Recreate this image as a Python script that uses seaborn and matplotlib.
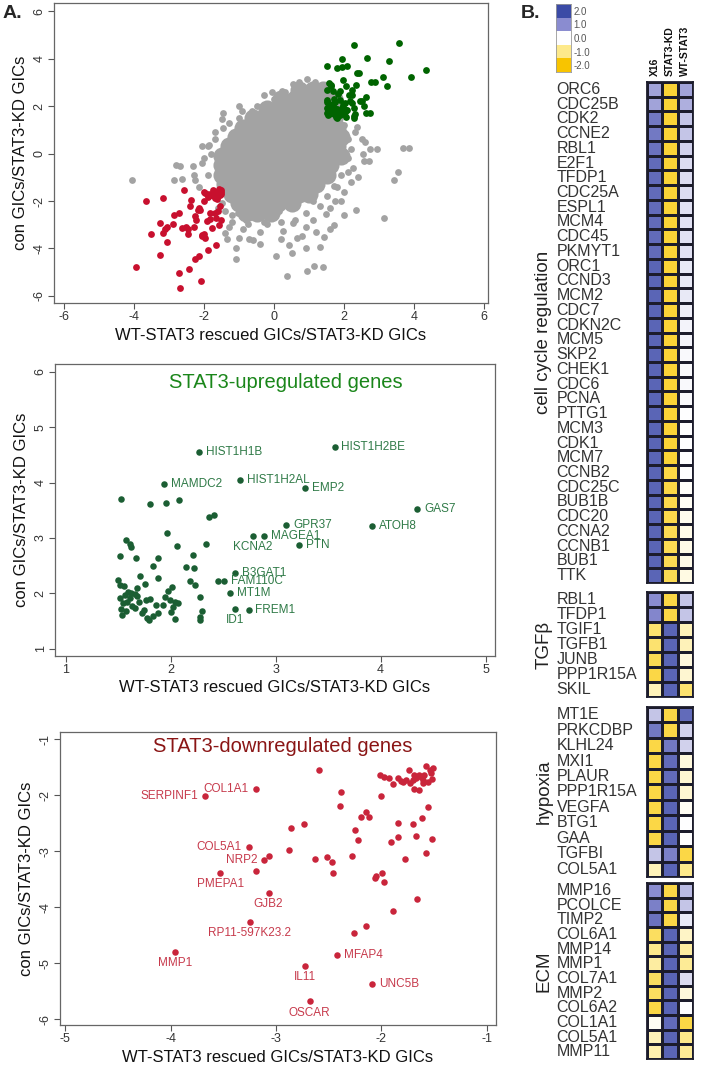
import numpy as np
import pandas as pd
import matplotlib
matplotlib.use("Agg")
import matplotlib.pyplot as plt
import seaborn as sns
from matplotlib.colors import LinearSegmentedColormap

sns.set_theme(style="ticks")
plt.rcParams['font.family'] = ['Liberation Sans', 'DejaVu Sans']

# ---------------- DATA ----------------
# STAT3-upregulated genes (labelled)
up_lab_names = ["HIST1H1B", "HIST1H2BE", "MAMDC2", "HIST1H2AL", "EMP2", "GAS7", "ATOH8",
                "GPR37", "MAGEA1", "KCNA2", "PTN", "B3GAT1", "FAM110C", "MT1M", "FREM1", "ID1"]
up_lab_x = [2.27, 3.56, 1.93, 2.66, 3.28, 4.35, 3.92, 3.10, 2.89, 2.78, 3.22, 2.61, 2.51, 2.56, 2.74, 2.61]
up_lab_y = [4.56, 4.65, 3.98, 4.04, 3.91, 3.53, 3.22, 3.24, 3.03, 3.03, 2.87, 2.37, 2.22, 2.01, 1.70, 1.72]
up_lab_pos = ["r", "r", "r", "r", "r", "r", "r", "r", "r", "b", "r", "r", "r", "r", "r", "b"]

# STAT3-upregulated genes (unlabelled)
up_x = [1.52, 1.80, 1.95, 2.08, 2.36, 2.41, 1.96, 1.57, 1.61, 1.62, 2.06, 2.33, 1.51, 1.67, 1.88,
        2.21, 1.83, 2.14, 2.22, 1.71, 1.88, 1.50, 1.51, 1.55, 1.75, 2.18, 2.23, 2.01, 1.97, 1.68,
        2.45, 1.59, 1.62, 1.66, 1.56, 1.51, 1.61, 1.68, 1.58, 1.54, 1.76, 1.80, 1.94, 1.99, 2.04,
        2.07, 1.86, 1.92, 2.02, 1.52, 1.57, 1.66, 1.72, 1.77, 1.79, 1.83, 1.88, 2.00, 2.04, 1.53,
        2.28, 2.30, 2.28, 2.28, 1.63, 1.70, 1.74]
up_y = [3.71, 3.61, 3.64, 3.68, 3.38, 3.41, 3.09, 2.97, 2.89, 2.83, 2.85, 2.90, 2.68, 2.63, 2.63,
        2.69, 2.50, 2.48, 2.45, 2.32, 2.27, 2.25, 2.16, 2.14, 2.17, 2.22, 2.15, 2.12, 2.04, 2.09,
        2.22, 2.03, 2.00, 1.99, 1.97, 1.91, 1.91, 1.95, 1.85, 1.82, 1.88, 1.89, 1.93, 1.88, 1.85,
        1.82, 1.79, 1.79, 1.76, 1.71, 1.69, 1.73, 1.65, 1.55, 1.52, 1.59, 1.64, 1.67, 1.54, 1.61,
        1.93, 1.68, 1.58, 1.52, 1.78, 1.85, 1.70]

# STAT3-downregulated genes (labelled)
dn_lab_names = ["COL1A1", "SERPINF1", "COL5A1", "NRP2", "PMEPA1", "GJB2", "RP11-597K23.2",
                "MMP1", "MFAP4", "IL11", "UNC5B", "OSCAR"]
dn_lab_x = [-3.19, -3.67, -3.26, -3.11, -3.53, -3.07, -3.25, -3.96, -2.42, -2.72, -2.09, -2.68]
dn_lab_y = [-1.89, -2.02, -2.93, -3.16, -3.39, -3.74, -4.27, -4.80, -4.86, -5.04, -5.36, -5.68]
dn_lab_pos = ["l", "l", "l", "l", "b", "b", "b", "b", "r", "b", "r", "b"]

# STAT3-downregulated genes (unlabelled)
dn_x = [-3.07, -3.19, -2.59, -2.38, -2.00, -2.39, -1.56, -2.19, -2.14, -2.12, -1.61, -2.73, -2.86,
        -2.25, -1.84, -1.70, -1.84, -1.67, -1.52, -2.22, -1.91, -2.88, -2.28, -1.57, -2.63, -2.51,
        -2.47, -2.46, -1.77, -2.06, -2.05, -1.99, -1.97, -1.66, -1.89, -2.14, -2.26,
        -2.01, -1.97, -1.93, -1.89, -1.84, -1.81, -1.74, -1.76, -1.73, -1.69, -1.67, -1.64, -1.60,
        -1.57, -1.54, -1.51, -1.52, -1.56, -1.60, -1.69, -1.64, -1.70, -1.79, -1.59, -1.62, -1.53]
dn_y = [-3.08, -3.36, -1.55, -1.94, -2.02, -2.19, -2.21, -2.39, -2.31, -2.39, -2.41, -2.52, -2.59,
        -2.62, -2.50, -2.52, -2.75, -2.73, -2.79, -2.80, -2.84, -2.98, -3.08, -3.03, -3.14, -3.11,
        -3.20, -3.39, -3.14, -3.47, -3.45, -3.39, -3.55, -3.85, -4.06, -4.33, -4.46,
        -1.64, -1.68, -1.69, -1.81, -1.70, -1.74, -1.55, -1.73, -1.79, -1.65, -1.70, -1.64, -1.73,
        -1.49, -1.55, -1.52, -1.72, -1.76, -1.79, -1.89, -1.91, -1.73, -1.76, -1.64, -1.67, -1.61]

# All other genes: dense core of the cloud
core_x = [0.7, 1.1, 1.4,
          0.2, 0.6, 1.0, 1.4, 1.7,
          -0.2, 0.1, 0.5, 0.9, 1.3, 1.7,
          -0.6, -0.3, 0.1, 0.5, 0.9, 1.3, 1.7,
          -0.9, -0.6, -0.2, 0.2, 0.6, 1.0, 1.4, 1.8,
          -1.1, -0.8, -0.4, 0.0, 0.4, 0.8, 1.2, 1.6, 1.9,
          -1.3, -1.0, -0.6, -0.2, 0.2, 0.6, 1.0, 1.4, 1.8,
          -1.5, -1.2, -0.8, -0.4, 0.0, 0.4, 0.8, 1.2, 1.6, 1.9,
          -1.5, -1.2, -0.8, -0.4, 0.0, 0.4, 0.8, 1.2, 1.6,
          -1.5, -1.2, -0.8, -0.4, 0.0, 0.4, 0.8, 1.2, 1.5,
          -1.4, -1.1, -0.7, -0.3, 0.1, 0.5, 0.9, 1.2,
          -1.2, -0.9, -0.5, -0.1, 0.3, 0.7, 1.0,
          -1.0, -0.7, -0.3, 0.1, 0.5,
          -0.8, -0.5, -0.1]
core_y = [2.7, 2.7, 2.7,
          2.3, 2.3, 2.3, 2.3, 2.3,
          1.9, 1.9, 1.9, 1.9, 1.9, 1.9,
          1.5, 1.5, 1.5, 1.5, 1.5, 1.5, 1.5,
          1.1, 1.1, 1.1, 1.1, 1.1, 1.1, 1.1, 1.1,
          0.7, 0.7, 0.7, 0.7, 0.7, 0.7, 0.7, 0.7, 0.7,
          0.3, 0.3, 0.3, 0.3, 0.3, 0.3, 0.3, 0.3, 0.3,
          -0.1, -0.1, -0.1, -0.1, -0.1, -0.1, -0.1, -0.1, -0.1, -0.1,
          -0.5, -0.5, -0.5, -0.5, -0.5, -0.5, -0.5, -0.5, -0.5,
          -0.9, -0.9, -0.9, -0.9, -0.9, -0.9, -0.9, -0.9, -0.9,
          -1.3, -1.3, -1.3, -1.3, -1.3, -1.3, -1.3, -1.3,
          -1.7, -1.7, -1.7, -1.7, -1.7, -1.7, -1.7,
          -2.1, -2.1, -2.1, -2.1, -2.1,
          -2.5, -2.5, -2.5]

# All other genes: scattered points around the core
gray_x = [-4.07, -2.80, -2.68, -2.33, -2.87, -2.64, -2.26, -2.05, -1.85, -2.07, -2.14, -1.45, -1.50,
          -1.46, -0.93, -0.64, -0.30, -0.05, 0.22, 0.55, 0.93, 1.17, 2.38, 2.75, 2.55, 2.58, 3.69,
          3.41, 2.35, 3.14, 2.25, 2.10, 1.72, 1.75, 1.47, 1.42, 1.32, 1.15, 1.39, 0.93, 0.05, 0.42,
          0.66, 0.80, 0.26, 0.55, -1.10, -1.08, -0.73, -1.01, -1.36, -1.40, -1.04, -0.76, -0.53,
          0.14, 1.10, 0.38, -0.59, -0.21, 2.93, 3.55, 3.84,
          -1.9, -1.8, -1.7, -1.3, -1.0, -0.5, 0.0, 0.3, 0.7, 1.2, 2.0, 2.1, 2.2, 2.1, 1.9, 1.8,
          1.5, 1.3, 0.9, 0.6, 0.2, -0.3, -0.8, -1.2, -1.4, -1.5, -1.2, -1.3, -0.9, -0.4, 0.9,
          1.1, 1.6, 2.0, 2.4, 2.3, 2.6, -2.0, -1.9, -2.3, -1.7, 1.9, 2.0, 1.7, 0.2, 0.9, 0.5,
          -0.4, 1.2, 2.5, 2.7, 2.2, 1.6, -1.6, -1.0]
gray_y = [-1.11, -0.46, -0.54, -0.52, -1.10, -1.08, -1.13, 0.30, 0.37, -0.40, -1.39, 1.70, 1.44,
          1.10, 1.78, 1.78, 2.47, 2.61, 2.63, 2.94, 3.16, 3.02, 1.11, 0.20, -0.02, -0.33, 0.24,
          -1.10, -2.37, -2.70, -0.60, -0.78, -1.35, -1.98, -2.54, -3.50, -3.95, -4.72, -4.80, -4.97,
          -4.32, -3.86, -3.54, -3.47, -3.26, -2.91, -4.00, -4.45, -3.60, -3.55, -3.60, -3.35, -2.51,
          -2.95, -2.60, -2.40, -1.98, -5.15, -3.66, -2.98, 0.19, -0.79, 0.22,
          -0.9, 0.0, 0.6, 1.3, 1.5, 2.0, 2.3, 2.6, 3.0, 2.8, 1.2, 0.6, 0.2, -0.2, -0.9, -1.4,
          -1.8, -2.2, -2.5, -2.8, -2.9, -2.9, -2.8, -2.6, -2.4, -2.1, -2.9, -3.1, -3.2, -3.3, -3.1,
          -2.8, -2.3, -1.6, -1.0, 0.9, 0.5, -0.2, 0.3, -0.9, 0.9, -2.0, -2.6, -3.0, -3.6, -4.0, -4.2,
          -3.8, -3.3, 0.6, -0.3, -1.2, -3.2, -2.3, 2.0]

# Heatmap (panel B)
conditions = ["X16", "STAT3-KD", "WT-STAT3"]
cc_genes = ["ORC6", "CDC25B", "CDK2", "CCNE2", "RBL1", "E2F1", "TFDP1", "CDC25A", "ESPL1", "MCM4",
            "CDC45", "PKMYT1", "ORC1", "CCND3", "MCM2", "CDC7", "CDKN2C", "MCM5", "SKP2", "CHEK1",
            "CDC6", "PCNA", "PTTG1", "MCM3", "CDK1", "MCM7", "CCNB2", "CDC25C", "BUB1B", "CDC20",
            "CCNA2", "CCNB1", "BUB1", "TTK"]
cc_x16 = [0.8, 0.8, 1.3, 1.3, 1.4, 1.5, 1.5, 1.5, 1.5, 1.5, 1.5, 1.5, 1.6, 1.6, 1.6, 1.6, 1.6,
          1.6, 1.6, 1.6, 1.6, 1.6, 1.6, 1.6, 1.6, 1.6, 1.6, 1.6, 1.6, 1.6, 1.6, 1.6, 1.6, 1.6]
cc_kd = [-1.6, -1.6, -1.6, -1.6, -1.6, -1.6, -1.6, -1.6, -1.6, -1.6, -1.6, -1.6, -1.6, -1.6,
         -1.6, -1.6, -1.6, -1.6, -1.6, -1.6, -1.6, -1.6, -1.6, -1.6, -1.6, -1.6, -1.5, -1.5,
         -1.45, -1.45, -1.4, -1.4, -1.4, -1.4]
cc_wt = [0.8, 0.7, 0.5, 0.5, 0.4, 0.3, 0.3, 0.3, 0.25, 0.25, 0.25, 0.25, 0.2, 0.2, 0.2, 0.15,
         0.1, 0.1, 0.05, 0.05, 0.05, 0.05, 0.0, 0.0, 0.0, 0.0, 0.0, -0.05, -0.1, -0.15, -0.2,
         -0.2, -0.2, -0.25]

tgf_genes = ["RBL1", "TFDP1", "TGIF1", "TGFB1", "JUNB", "PPP1R15A", "SKIL"]
tgf_x16 = [1.0, 1.1, -1.2, -1.2, -1.4, -1.5, -0.6]
tgf_kd = [-1.5, -1.5, 1.6, 1.6, 1.6, 1.6, 1.6]
tgf_wt = [0.5, 0.5, -0.6, -0.6, -0.3, -0.4, -1.2]

hyp_genes = ["MT1E", "PRKCDBP", "KLHL24", "MXI1", "PLAUR", "PPP1R15A", "VEGFA", "BTG1", "GAA",
             "TGFBI", "COL5A1"]
hyp_x16 = [0.5, 1.3, -1.5, -1.5, -1.5, -1.5, -1.5, -1.5, -1.5, 0.5, -0.6]
hyp_kd = [-1.5, -1.5, 1.3, 1.5, 1.5, 1.6, 1.6, 1.6, 1.6, 1.2, 1.6]
hyp_wt = [1.5, 0.4, 0.4, -0.3, -0.4, -0.4, -0.1, 0.0, 0.0, -1.5, -1.0]

ecm_genes = ["MMP16", "PCOLCE", "TIMP2", "COL6A1", "MMP14", "MMP1", "COL7A1", "MMP2", "COL6A2",
             "COL1A1", "COL5A1", "MMP11"]
ecm_x16 = [1.0, 1.2, 1.4, -1.3, -1.0, -0.8, -1.3, -1.3, -1.5, -0.1, -0.6, -0.7]
ecm_kd = [-1.5, -1.5, -1.5, 1.6, 1.6, 1.6, 1.6, 1.6, 1.6, 1.5, 1.6, 1.6]
ecm_wt = [0.6, 0.5, 0.2, -0.5, -0.8, -0.9, 0.3, -0.3, 0.0, -1.5, -1.0, -0.9]

group_names = ["cell cycle regulation", "TGFβ", "hypoxia", "ECM"]
legend_vals = [2.0, 1.0, 0.0, -1.0, -2.0]
legend_labels = ["2.0", "1.0", "0.0", "-1.0", "-2.0"]

# ---------------- FIGURE ----------------
W, H = 701, 1065
fig = plt.figure(figsize=(W / 100, H / 100), dpi=100)


def ax_px(l, t, r, b):
    return fig.add_axes([l / W, 1 - b / H, (r - l) / W, (b - t) / H])


AX_LABEL = "WT-STAT3 rescued GICs/STAT3-KD GICs"
AY_LABEL = "con GICs/STAT3-KD GICs"


def rstyle(ax, xt, yt, xlim, ylim):
    ax.set_xlim(xlim)
    ax.set_ylim(ylim)
    ax.set_xticks(xt)
    ax.set_yticks(yt)
    ax.set_xticklabels([str(v) for v in xt])
    ax.set_yticklabels([str(v) for v in yt], rotation=90, va="center")
    ax.tick_params(direction="out", length=4, width=0.8, color="#555", labelsize=9,
                   labelcolor="#333", pad=2, bottom=True, left=True)
    for s in ax.spines.values():
        s.set_visible(True)
        s.set_color("#666")
        s.set_linewidth(0.9)
    ax.set_xlabel(AX_LABEL, fontsize=12, color="#111", labelpad=3)
    ax.set_ylabel(AY_LABEL, fontsize=12, color="#111", labelpad=4)


# ---- Panel A top: full scatter ----
ax1 = ax_px(54, 3, 488, 303)
sns.scatterplot(x=core_x, y=core_y, ax=ax1, color="#a3a3a3", s=170, linewidth=0, zorder=1)
sns.scatterplot(x=gray_x, y=gray_y, ax=ax1, color="#a3a3a3", s=24, linewidth=0, zorder=2)
sns.scatterplot(x=up_x + up_lab_x, y=up_y + up_lab_y, ax=ax1, color="#006400", s=24,
                linewidth=0, zorder=3)
sns.scatterplot(x=dn_x + dn_lab_x, y=dn_y + dn_lab_y, ax=ax1, color="#c8102e", s=24,
                linewidth=0, zorder=3)
rstyle(ax1, [-6, -4, -2, 0, 2, 4, 6], [-6, -4, -2, 0, 2, 4, 6], (-6.29, 6.11), (-6.3, 6.35))


def annotate(ax, xs, ys, names, pos, color):
    for x, y, n, p in zip(xs, ys, names, pos):
        if p == "r":
            kw = dict(xytext=(5, 0), ha="left", va="center")
        elif p == "l":
            kw = dict(xytext=(-5, 0), ha="right", va="center")
        else:
            kw = dict(xytext=(0, -8), ha="center", va="center")
        ax.annotate(n, (x, y), textcoords="offset points", fontsize=8.5, color=color, **kw)


# ---- Panel A middle: up-regulated ----
ax2 = ax_px(55, 364, 495, 656)
sns.scatterplot(x=up_x + up_lab_x, y=up_y + up_lab_y, ax=ax2, color="#1b5e33", s=22, linewidth=0)
annotate(ax2, up_lab_x, up_lab_y, up_lab_names, up_lab_pos, "#2f7a47")
rstyle(ax2, [1, 2, 3, 4, 5], [1, 2, 3, 4, 5, 6], (0.895, 5.09), (0.87, 6.14))
ax2.text(0.525, 0.935, "STAT3-upregulated genes", transform=ax2.transAxes, ha="center",
         va="center", fontsize=14.5, color="#1a861a")

# ---- Panel A bottom: down-regulated ----
ax3 = ax_px(60, 732, 496, 1025)
sns.scatterplot(x=dn_x + dn_lab_x, y=dn_y + dn_lab_y, ax=ax3, color="#c9253b", s=22, linewidth=0)
annotate(ax3, dn_lab_x, dn_lab_y, dn_lab_names, dn_lab_pos, "#c73a4c")
rstyle(ax3, [-5, -4, -3, -2, -1], [-6, -5, -4, -3, -2, -1], (-5.05, -0.91), (-6.1, -0.875))
ax3.text(0.51, 0.949, "STAT3-downregulated genes", transform=ax3.transAxes, ha="center",
         va="center", fontsize=14.5, color="#8a1515")

# ---- Panel B: heatmaps ----
cmap = LinearSegmentedColormap.from_list(
    "by", [(0.0, "#f8c400"), (0.25, "#fde98b"), (0.5, "#ffffff"), (0.75, "#8b8dd0"),
           (1.0, "#3b4ba6")])

groups = [
    (cc_genes, cc_x16, cc_kd, cc_wt, 82, 583),
    (tgf_genes, tgf_x16, tgf_kd, tgf_wt, 592, 697),
    (hyp_genes, hyp_x16, hyp_kd, hyp_wt, 707, 877),
    (ecm_genes, ecm_x16, ecm_kd, ecm_wt, 883, 1059),
]
for i, (genes, a, b, c, top, bot) in enumerate(groups):
    ax = ax_px(647, top, 693, bot)
    df = pd.DataFrame({conditions[0]: a, conditions[1]: b, conditions[2]: c}, index=genes)
    sns.heatmap(df, ax=ax, cmap=cmap, vmin=-2, vmax=2, cbar=False, linewidths=1.0,
                linecolor="#1c1c2c", xticklabels=(i == 0), yticklabels=True)
    ax.set_yticks(np.arange(len(genes)) + 0.5)
    ax.set_yticklabels(genes, rotation=0, ha="left", fontsize=11.5, color="#333")
    ax.tick_params(axis="y", pad=65, length=0, left=True)
    ax.set_ylabel("")
    if i == 0:
        ax.xaxis.tick_top()
        ax.set_xticklabels(conditions, rotation=90, fontsize=7.5, fontweight="bold",
                           color="#111", va="bottom")
        ax.tick_params(axis="x", length=0, pad=4, top=True, bottom=False)
    for s in ax.spines.values():
        s.set_visible(True)
        s.set_color("#1c1c2c")
        s.set_linewidth(1.3)
    fig.text(544 / W, 1 - (top + bot) / 2 / H, group_names[i], rotation=90, ha="center",
             va="center", fontsize=13.5, color="#222")

# colour legend
axl = ax_px(556, 4, 571, 72)
sns.heatmap(pd.DataFrame({"v": legend_vals}, index=legend_labels), ax=axl, cmap=cmap, vmin=-2,
            vmax=2, cbar=False, xticklabels=False, yticklabels=True)
axl.yaxis.tick_right()
axl.set_yticklabels(legend_labels, rotation=0, fontsize=7, color="#555")
axl.tick_params(axis="y", length=0, pad=2, right=True, left=False)
axl.set_ylabel("")
for s in axl.spines.values():
    s.set_visible(True)
    s.set_color("#999")
    s.set_linewidth(0.6)

fig.text(3 / W, 1 - 14 / H, "A.", fontsize=14, fontweight="bold", va="center", ha="left")
fig.text(521 / W, 1 - 14 / H, "B.", fontsize=14, fontweight="bold", va="center", ha="left")

fig.savefig("out.png", dpi=100)
